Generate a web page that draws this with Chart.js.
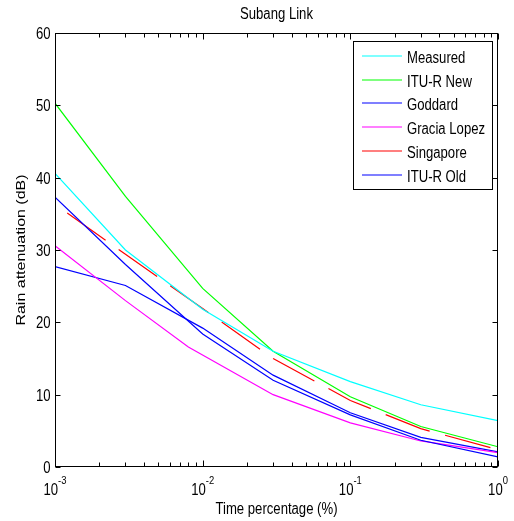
<!DOCTYPE html>
<html>
<head>
<meta charset="utf-8">
<script src="https://cdn.jsdelivr.net/npm/chart.js@4.4.0/dist/chart.umd.min.js"></script>
<style>
  html, body { margin: 0; padding: 0; background: #fff; }
  canvas { display: block; }
</style>
</head>
<body>
<canvas id="subangChart" width="514" height="521"></canvas>
<script>
// time percentage (%) for each prediction point
const timePct      = [0.001, 0.003, 0.01, 0.03, 0.1, 0.3, 1];
const timePctLopez = [0.001, 0.003, 0.008, 0.03, 0.1, 0.3, 1];

// rain attenuation (dB)
const measured    = [40.6, 30.0, 21.8, 16.0, 11.8, 8.6, 6.4];
const ituNew      = [50.3, 37.4, 24.7, 16.0, 9.7, 5.6, 2.8];
const goddard     = [37.3, 28.0, 18.4, 12.0, 7.2, 3.7, 1.4];
const graciaLopez = [30.6, 23.0, 16.6, 10.0, 6.1, 3.6, 2.0];
const singapore   = [36.3, 29.4, 21.9, 15.0, 9.2, 5.3, 2.4];
const ituOld      = [27.7, 25.1, 19.2, 12.7, 7.5, 4.1, 2.1];

const seriesNames  = ['Measured', 'ITU-R New', 'Goddard', 'Gracia Lopez', 'Singapore', 'ITU-R Old'];
const seriesColors = ['#00ffff', '#00ff00', '#0000ff', '#ff00ff', '#ff0000', '#0000ff'];

const xTicks    = [0.001, 0.01, 0.1, 1];
const xTickExps = ['-3', '-2', '-1', '0'];
const yTicks    = [0, 10, 20, 30, 40, 50, 60];

const FONT = '"Liberation Sans", Arial, sans-serif';
const SQUEEZE = 0.82;

const toPoints = (xs, ys) => xs.map((x, i) => ({ x: x, y: ys[i] }));

// text squeezed horizontally, like the export this figure came from
const narrowText = (ctx, text, x, y, size, align) => {
    ctx.save();
    ctx.font = size + 'px ' + FONT;
    let w = ctx.measureText(text).width * SQUEEZE;
    let x0 = x;
    if (align === 'center') x0 = x - w / 2;
    if (align === 'right') x0 = x - w;
    ctx.translate(x0, y);
    ctx.scale(SQUEEZE, 1);
    ctx.textAlign = 'left';
    ctx.textBaseline = 'alphabetic';
    ctx.fillStyle = '#000';
    ctx.fillText(text, 0, 0);
    ctx.restore();
    return w;
};

const textWidth = (ctx, text, size) => {
    ctx.save();
    ctx.font = size + 'px ' + FONT;
    let w = ctx.measureText(text).width * SQUEEZE;
    ctx.restore();
    return w;
};

// box, inward ticks, labels and legend drawn on top of the lines
const matlabFrame = {
    id: 'matlabFrame',
    afterDraw(chart) {
        const ctx = chart.ctx;
        const area = chart.chartArea;
        const xs = chart.scales.x;
        const ys = chart.scales.y;
        const L = Math.round(area.left) + 0.5;
        const R = Math.round(area.right) - 0.5;
        const T = Math.round(area.top) + 0.5;
        const B = Math.round(area.bottom) - 0.5;

        ctx.save();
        ctx.strokeStyle = '#000';
        ctx.lineWidth = 1;
        ctx.strokeRect(L, T, R - L, B - T);

        // log ticks on top and bottom
        ctx.beginPath();
        for (let d = -3; d <= 0; d++) {
            for (let m = 1; m <= 9; m++) {
                if (d === 0 && m > 1) break;
                let v = m * Math.pow(10, d);
                let px = Math.round(xs.getPixelForValue(v)) + 0.5;
                let len = m === 1 ? 6 : 4;
                ctx.moveTo(px, B); ctx.lineTo(px, B - len);
                ctx.moveTo(px, T); ctx.lineTo(px, T + len);
            }
        }
        yTicks.forEach(v => {
            let py = Math.round(ys.getPixelForValue(v)) + 0.5;
            ctx.moveTo(L, py); ctx.lineTo(L + 5, py);
            ctx.moveTo(R, py); ctx.lineTo(R - 5, py);
        });
        ctx.stroke();

        // y tick labels
        yTicks.forEach(v => {
            let py = ys.getPixelForValue(v);
            narrowText(ctx, String(v), L - 5, py + 6, 16, 'right');
        });

        // x tick labels: 10 with a raised exponent
        xTicks.forEach((v, i) => {
            let px = xs.getPixelForValue(v);
            let wBase = textWidth(ctx, '10', 16);
            let wExp = textWidth(ctx, xTickExps[i], 11.5);
            let x0 = px - (wBase + wExp) / 2;
            narrowText(ctx, '10', x0, 495, 16, 'left');
            narrowText(ctx, xTickExps[i], x0 + wBase, 484, 11.5, 'left');
        });

        // titles
        narrowText(ctx, 'Subang Link', (area.left + area.right) / 2, 19, 16, 'center');
        narrowText(ctx, 'Time percentage (%)', (area.left + area.right) / 2, 514, 16, 'center');

        ctx.save();
        ctx.translate(21, (area.top + area.bottom) / 2);
        ctx.rotate(-Math.PI / 2);
        ctx.scale(1, SQUEEZE);
        ctx.font = '16px ' + FONT;
        ctx.fillStyle = '#000';
        ctx.textAlign = 'center';
        ctx.textBaseline = 'middle';
        ctx.fillText('Rain attenuation (dB)', 0, 0);
        ctx.restore();

        // legend
        const lx = 353.5, ly = 41.5, lw = 139, lh = 148;
        ctx.fillStyle = '#fff';
        ctx.fillRect(lx, ly, lw, lh);
        ctx.strokeStyle = '#000';
        ctx.strokeRect(lx, ly, lw, lh);
        chart.data.datasets.forEach((ds, i) => {
            let rowY = Math.round(56 + i * 23.7);
            ctx.strokeStyle = ds.borderColor;
            ctx.lineWidth = 1.2;
            ctx.beginPath();
            ctx.moveTo(362, rowY);
            ctx.lineTo(402, rowY);
            ctx.stroke();
            narrowText(ctx, ds.label, 407, rowY + 6.5, 16, 'left');
        });
        ctx.restore();
    }
};

const makeDataset = (i, xs, ys, extra) => Object.assign({
    label: seriesNames[i],
    data: toPoints(xs, ys),
    borderColor: seriesColors[i],
    backgroundColor: seriesColors[i],
    borderWidth: 1.2,
    pointRadius: 0,
    tension: 0,
    fill: false
}, extra || {});

const ctx = document.getElementById('subangChart');
const subangChart = new Chart(ctx, {
    type: 'line',
    data: {
        datasets: [
            makeDataset(0, timePct, measured),
            makeDataset(1, timePct, ituNew),
            makeDataset(2, timePct, goddard),
            makeDataset(3, timePctLopez, graciaLopez),
            makeDataset(4, timePct, singapore, { borderDash: [47, 16], borderDashOffset: 48 }),
            makeDataset(5, timePct, ituOld)
        ]
    },
    options: {
        responsive: false,
        animation: false,
        layout: {
            padding: { left: 55, top: 33, right: 16, bottom: 54 }
        },
        plugins: {
            legend: { display: false },
            tooltip: { enabled: false },
            title: { display: false }
        },
        scales: {
            x: {
                type: 'logarithmic',
                display: false,
                min: 0.001,
                max: 1
            },
            y: {
                type: 'linear',
                display: false,
                min: 0,
                max: 60
            }
        }
    },
    plugins: [matlabFrame]
});
</script>
</body>
</html>
